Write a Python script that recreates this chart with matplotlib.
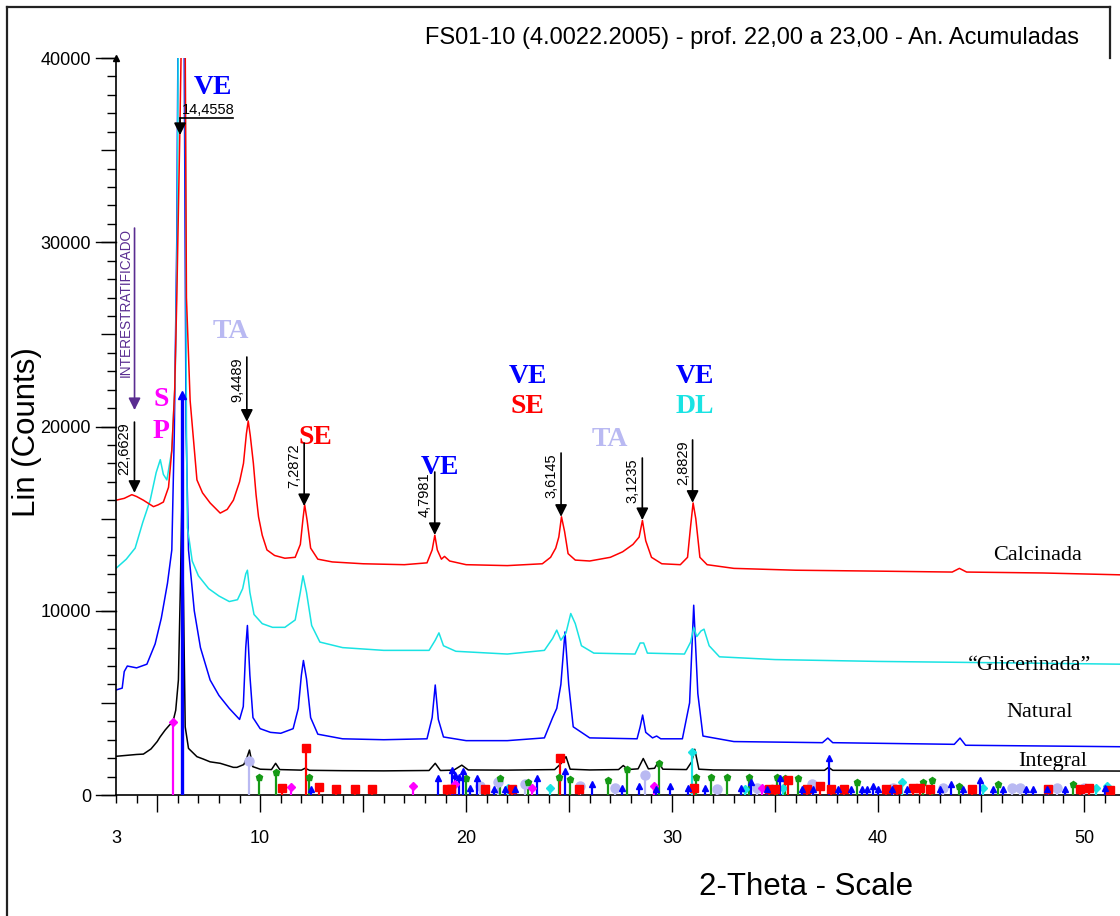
import numpy as np
import matplotlib
matplotlib.use("Agg")
import matplotlib.pyplot as plt
from matplotlib.ticker import FixedLocator, MultipleLocator, FuncFormatter
from matplotlib.lines import Line2D

SANS = ['Liberation Sans', 'DejaVu Sans']
SERIF = ['Liberation Serif', 'DejaVu Serif']
plt.rcParams['font.family'] = SANS

# ---------------- data ----------------
title = "FS01-10 (4.0022.2005) - prof. 22,00 a 23,00 - An. Acumuladas"

calc_x = [3.0, 3.4, 3.77, 4.0, 4.33, 4.82, 5.05, 5.3, 5.55, 5.71, 5.85, 5.95, 6.1, 6.2, 6.35, 6.42, 6.6, 6.93,
          7.2, 7.57, 8.06, 8.4, 8.7, 9.0, 9.19, 9.33, 9.42, 9.52, 9.67, 9.8, 9.92, 10.1, 10.33, 10.7, 11.2,
          11.7, 11.95, 12.08, 12.16, 12.28, 12.45, 12.8, 13.5, 15, 17, 18.1, 18.35, 18.48, 18.6, 18.8, 18.95,
          19.2, 20, 22, 23.7, 24.1, 24.35, 24.5, 24.63, 24.78, 24.95, 25.3, 26, 27, 27.6, 28.1, 28.4, 28.56,
          28.72, 29.0, 29.5, 30.4, 30.75, 30.9, 31.02, 31.15, 31.35, 31.7, 33, 36, 40, 43.6, 43.95, 44.3, 48, 51.75]
calc_y = [16000, 16100, 16300, 16200, 16000, 15650, 15750, 15900, 16700, 18700, 22000, 26900, 36000, 43000, 43000,
          27000, 21400, 17100, 16400, 15850, 15300, 15500, 16000, 17000, 18000, 19600, 20300, 19500, 18000, 16300,
          15100, 14100, 13300, 13000, 12850, 12900, 13600, 15000, 15750, 14900, 13400, 12800, 12650, 12550, 12500,
          12600, 13300, 14100, 13300, 12800, 12950, 12700, 12500, 12450, 12550, 12900, 13400, 14000, 15100, 14300,
          13100, 12750, 12700, 12900, 13200, 13600, 14000, 14900, 13800, 12900, 12550, 12500, 12900, 14600, 15850,
          15000, 12900, 12500, 12300, 12200, 12150, 12100, 12300, 12100, 12050, 11950]

glic_x = [3.0, 3.5, 3.93, 4.3, 4.66, 4.95, 5.15, 5.3, 5.47, 5.71, 5.87, 5.97, 6.03, 6.35, 6.42, 6.47, 6.7, 7.0,
          7.5, 8.0, 8.5, 8.9, 9.15, 9.3, 9.38, 9.5, 9.7, 10.1, 10.6, 11.2, 11.7, 11.95, 12.08, 12.25, 12.5,
          12.9, 14, 16, 18.2, 18.5, 18.68, 18.9, 19.5, 22, 23.8, 24.2, 24.4, 24.6, 24.85, 25.08, 25.3, 25.6,
          26.2, 28.2, 28.45, 28.62, 28.8, 30.6, 30.9, 31.05, 31.2, 31.4, 31.55, 31.8, 32.3, 35, 40, 44, 51.75]
glic_y = [12300, 12800, 13400, 14800, 16000, 17500, 18200, 17400, 17100, 18700, 22400, 30000, 43000, 43000,
          20000, 14500, 12700, 11900, 11200, 10800, 10500, 10600, 11200, 12000, 12200, 11000, 9800, 9300, 9100,
          9100, 9500, 11000, 11900, 11000, 9200, 8300, 8000, 7850, 7850, 8400, 8800, 8100, 7800, 7650, 7850,
          8500, 8950, 8400, 8800, 9850, 9300, 8100, 7700, 7650, 8250, 8250, 7700, 7650, 8300, 9100, 8600, 8900,
          9000, 8100, 7500, 7350, 7250, 7200, 7100]

nat_x = [3.0, 3.3, 3.4, 3.55, 4.0, 4.5, 4.9, 5.2, 5.5, 5.71, 5.83, 5.95, 6.02, 6.3, 6.4, 6.52, 6.8, 7.1, 7.57,
         8.0, 8.5, 9.0, 9.18, 9.3, 9.38, 9.5, 9.65, 10.0, 10.5, 11.0, 11.6, 11.85, 12.0, 12.1, 12.25, 12.45,
         12.8, 14, 16, 18.1, 18.35, 18.5, 18.65, 18.9, 20, 22, 23.8, 24.2, 24.4, 24.6, 24.8, 24.98, 25.2, 26,
         28.3, 28.45, 28.57, 28.72, 29.05, 29.25, 29.45, 30.5, 30.85, 31.05, 31.25, 31.5, 33, 37.3, 37.56,
         37.8, 43.7, 43.98, 44.25, 51.75]
nat_y = [5700, 5800, 6700, 7000, 6900, 7100, 8200, 9600, 11500, 13300, 19600, 30000, 43000, 43000, 20000, 13300,
         10000, 8000, 6240, 5400, 4700, 4100, 4800, 8000, 9200, 6500, 4200, 3600, 3400, 3350, 3600, 4700, 6500,
         7300, 6300, 4200, 3300, 3050, 3000, 3050, 4200, 5970, 4100, 3150, 2950, 2950, 3100, 4200, 4700, 6000,
         8850, 6000, 3700, 3100, 3050, 3700, 4340, 3400, 3100, 3200, 3050, 3050, 5000, 10300, 5500, 3200, 2900,
         2840, 3090, 2840, 2750, 3090, 2700, 2620]

integ_x = [3.0, 3.5, 4.0, 4.33, 4.7, 5.0, 5.14, 5.39, 5.6, 5.76, 5.9, 6.03, 6.12, 6.2, 6.26, 6.36, 6.52, 6.93,
           7.24, 7.57, 8.06, 8.7, 8.87, 9.2, 9.35, 9.48, 9.64, 10.0, 10.55, 10.75, 10.95, 12.0, 12.18, 12.4,
           14, 16, 18.2, 18.5, 18.75, 19.4, 19.79, 20.1, 22, 24.3, 24.6, 24.85, 25.05, 26, 27.4, 27.63, 27.85,
           28.35, 28.6, 28.85, 29.15, 29.33, 29.55, 30.7, 30.95, 31.1, 31.3, 32, 35, 37.4, 37.6, 37.8, 42, 46, 51.75]
integ_y = [2100, 2150, 2200, 2220, 2500, 2900, 3150, 3530, 3800, 3950, 4600, 6240, 11000, 16000, 12000, 3700,
           2530, 2080, 1950, 1800, 1720, 1500, 1500, 1650, 2000, 2440, 1540, 1400, 1380, 1720, 1380, 1350, 1450,
           1340, 1320, 1310, 1330, 1720, 1330, 1350, 1620, 1360, 1350, 1380, 1700, 2080, 1400, 1360, 1380, 1600,
           1380, 1420, 1980, 1420, 1450, 1800, 1400, 1380, 1800, 2480, 1400, 1360, 1340, 1340, 1500, 1340, 1330,
           1320, 1300]

curve_names = ["Calcinada", "\u201cGlicerinada\u201d", "Natural", "Integral"]

# reference stick patterns (2-theta, relative height in counts)
ve_pos = [6.22, 12.46, 18.62, 19.31, 19.47, 19.67, 19.87, 20.19, 20.55, 21.33, 21.9, 22.38, 23.42, 24.8, 26.1,
          27.56, 28.37, 29.22, 29.9, 30.76, 31.6, 33.34, 33.82, 34.6, 35.24, 36.3, 36.86, 37.62, 38.07, 38.7,
          39.2, 39.45, 39.77, 40.0, 40.66, 41.4, 43.0, 43.55, 44.14, 44.95, 45.6, 46.08, 47.2, 47.54, 48.2,
          49.08, 51.0]
ve_h = [21700, 300, 900, 1350, 1100, 1000, 1300, 400, 900, 350, 300, 300, 900, 1300, 600, 400, 500, 300, 500,
        400, 400, 400, 700, 300, 900, 300, 300, 2000, 300, 300, 300, 300, 500, 300, 300, 300, 300, 600, 300,
        800, 300, 300, 300, 300, 300, 300, 400]
gr_pos = [9.92, 10.76, 12.36, 20.0, 21.65, 22.98, 24.53, 25.05, 26.87, 27.8, 29.37, 31.16, 31.88, 32.66, 33.71,
          35.08, 35.5, 36.1, 39.0, 42.2, 42.63, 43.95, 45.84, 49.48]
gr_h = [970, 1250, 970, 900, 900, 700, 1000, 850, 800, 1400, 1720, 1000, 1000, 1000, 1000, 980, 900, 900, 700,
        700, 800, 500, 600, 600]
se_pos = [11.08, 12.21, 12.85, 13.69, 14.61, 15.42, 19.06, 19.26, 20.92, 22.25, 24.56, 25.48, 31.08, 34.7, 35.0,
          35.65, 36.57, 37.2, 37.7, 38.35, 40.37, 40.9, 41.72, 42.04, 42.5, 44.55, 48.27, 49.8, 50.26, 51.25]
se_h = [380, 2550, 450, 350, 350, 350, 300, 300, 350, 350, 2010, 300, 400, 300, 300, 800, 350, 500, 300, 350,
        350, 350, 400, 400, 350, 350, 350, 350, 400, 250]
sp_pos = [5.76, 11.52, 17.41, 19.47, 23.22, 29.1, 34.35]
sp_h = [3950, 430, 500, 600, 400, 500, 400]
ta_pos = [9.45, 20.68, 21.57, 22.86, 25.53, 27.23, 28.68, 32.17, 34.1, 36.78, 40.73, 43.17, 46.5, 46.9, 48.67, 50.0]
ta_h = [1850, 500, 700, 600, 500, 400, 1100, 300, 400, 600, 400, 400, 400, 400, 400, 400]
dl_pos = [22.05, 24.08, 30.97, 33.55, 35.4, 41.15, 45.1, 50.6, 51.1]
dl_h = [400, 400, 2330, 300, 400, 700, 400, 400, 500]

# d-spacing annotations (Angstrom) with arrow tip / top heights (counts)
d_labels = ["22,6629", "9,4489", "7,2872", "4,7981", "3,6145", "3,1235", "2,8829"]
d_tip = [16400, 20260, 15680, 14110, 15100, 14920, 15860]
d_top = [20240, 23770, 19100, 17530, 18560, 18290, 19270]
main_d = "14,4558"

mineral_labels = ["VE", "TA", "S", "P", "SE", "VE", "VE", "SE", "TA", "VE", "DL"]
mineral_x = [7.72, 8.6, 5.19, 5.19, 12.67, 18.74, 23.0, 22.97, 26.99, 31.1, 31.1]
mineral_y = [38420, 25130, 21440, 19720, 19430, 17750, 22740, 21060, 19270, 22740, 21060]

# ---------------- colours ----------------
RED = '#ff0000'
CYAN = '#19e3e3'
BLUE = '#0000ff'
BLACK = '#000000'
GREEN = '#159a15'
MAG = '#ff00ff'
LAV = '#b9b9f2'
PURPLE = '#5a2d91'
mineral_colors = [BLUE, LAV, MAG, MAG, RED, BLUE, BLUE, RED, LAV, BLUE, CYAN]

LAMBDA = 1.5406


def two_theta(d_str):
    d = float(d_str.replace(',', '.'))
    return 2 * np.degrees(np.arcsin(LAMBDA / (2 * d)))


# ---------------- figure ----------------
W, H = 1120, 916
fig = plt.figure(figsize=(W / 100, H / 100), dpi=100)
x0px, x1px, y0px, y1px = 116, 1120, 795, 58
ax = fig.add_axes([x0px / W, (H - y0px) / H, (x1px - x0px) / W, (y0px - y1px) / H])
ax.set_xlim(3, 3 + (x1px - 115.8) / 20.6)
ax.set_ylim(0, 40000)
ax.patch.set_alpha(0)

for s in ['top', 'right']:
    ax.spines[s].set_visible(False)
for s in ['left', 'bottom']:
    ax.spines[s].set_linewidth(1.2)

# curves
ax.plot(integ_x, integ_y, color=BLACK, lw=1.1, zorder=2)
ax.plot(nat_x, nat_y, color=BLUE, lw=1.1, zorder=2)
ax.plot(glic_x, glic_y, color=CYAN, lw=1.1, zorder=2)
ax.plot(calc_x, calc_y, color=RED, lw=1.1, zorder=2)


def sticks(pos, h, color, marker, ms, lw, z=4):
    ax.vlines(pos, 0, h, colors=color, lw=lw, zorder=z)
    ax.plot(pos, h, ls='none', marker=marker, color=color, ms=ms, mec=color, zorder=z + 0.5)


sticks(ta_pos, ta_h, LAV, 'o', 6.5, 1.6, 3)
sticks(dl_pos, dl_h, CYAN, 'D', 4.5, 1.6, 3.2)
sticks(gr_pos, gr_h, GREEN, 'p', 4.5, 1.6, 3.4)
sticks(sp_pos, sp_h, MAG, 'D', 3.8, 1.6, 3.6)
sticks(se_pos, se_h, RED, 's', 5.5, 1.6, 3.8)
sticks(ve_pos[:1], ve_h[:1], BLUE, '^', 5.5, 2.4, 4)
sticks(ve_pos[1:], ve_h[1:], BLUE, '^', 5.0, 1.6, 4)

# ticks
ax.xaxis.set_major_locator(FixedLocator(list(range(5, 51, 5))))
ax.xaxis.set_minor_locator(MultipleLocator(1))
ax.xaxis.set_major_formatter(FuncFormatter(lambda v, p: str(int(v)) if int(v) % 10 == 0 else ''))
ax.tick_params(axis='x', which='major', direction='out', length=12, width=1, pad=13, labelsize=13)
ax.tick_params(axis='x', which='minor', direction='out', length=6, width=1)
ax.text(3, -35 / 737, '3', transform=ax.get_xaxis_transform(), ha='center', va='top', fontsize=13)

ax.yaxis.set_major_locator(FixedLocator(list(range(0, 40001, 5000))))
ax.yaxis.set_minor_locator(MultipleLocator(1000))
ax.yaxis.set_major_formatter(FuncFormatter(lambda v, p: str(int(v)) if int(v) % 10000 == 0 else ''))
ax.tick_params(axis='y', which='major', direction='out', length=11, width=1, pad=7, labelsize=13)
ax.tick_params(axis='y', which='minor', direction='out', length=6.5, width=1)
axw = x1px - x0px
for v in range(0, 40001, 10000):
    ax.plot([-20 / axw, 0], [v, v], transform=ax.get_yaxis_transform(), color='k', lw=1, clip_on=False)
ax.plot([3], [40000], marker='^', color='k', ms=5, clip_on=False, zorder=6)

ax.set_ylabel("Lin (Counts)", fontsize=22.5)
ax.set_xlabel("2-Theta - Scale", fontsize=22.5)
ax.xaxis.set_label_coords((806 - x0px) / axw, -(872 - y0px) / 737)
ax.yaxis.set_label_coords((42 - x0px) / axw, (795 - 432) / 737)

fig.text(752 / W, 1 - 38 / H, title, ha='center', va='center', fontsize=17)

# mineral labels
for lab, x, y, c in zip(mineral_labels, mineral_x, mineral_y, mineral_colors):
    ax.text(x, y, lab, color=c, fontsize=20, fontweight='bold', family=SERIF, ha='center', va='center', zorder=7)

# curve names
name_x = [45.58, 44.37, 46.22, 46.8]
name_y = [13025, 7055, 4500, 1845]
for n, x, y in zip(curve_names, name_x, name_y):
    ax.text(x, y, n, fontsize=16, family=SERIF, ha='left', va='center', zorder=7)

# d-spacing arrows
arrow_kw = dict(arrowstyle='-|>,head_length=0.6,head_width=0.3', color='k', lw=1.2,
                shrinkA=0, shrinkB=0, mutation_scale=12)
for lab, tip, top in zip(d_labels, d_tip, d_top):
    x = two_theta(lab)
    ax.annotate('', xy=(x, tip), xytext=(x, top), arrowprops=arrow_kw, zorder=8)
    ax.annotate(lab, xy=(x, top), xytext=(-2, 0), textcoords='offset points', rotation=90,
                ha='right', va='top', fontsize=10.5, zorder=8)

xm = two_theta(main_d)
ax.plot([xm, xm + 53 / 20.6], [36740, 36740], color='k', lw=1.2, zorder=8)
ax.annotate('', xy=(xm, 35820), xytext=(xm, 36740), arrowprops=arrow_kw, zorder=8)
ax.annotate(main_d, xy=(xm, 36740), xytext=(1, 1), textcoords='offset points', ha='left', va='bottom',
            fontsize=10.5, zorder=8)

# interstratified label
xi = 3.9
ax.annotate('', xy=(xi, 20890), xytext=(xi, 30770),
            arrowprops=dict(arrowstyle='-|>,head_length=0.6,head_width=0.3', color=PURPLE, lw=1.2,
                            shrinkA=0, shrinkB=0, mutation_scale=12), zorder=8)
ax.annotate("INTERESTRATIFICADO", xy=(xi, 30770), xytext=(-1.5, 0), textcoords='offset points', rotation=90,
            ha='right', va='top', fontsize=9.8, color=PURPLE, zorder=8)

# outer frame
fig.add_artist(Line2D([7 / W, 7 / W], [0, 1 - 7 / H], transform=fig.transFigure, color='#222222', lw=1.6))
fig.add_artist(Line2D([7 / W, 1110 / W], [1 - 7 / H, 1 - 7 / H], transform=fig.transFigure, color='#222222', lw=1.6))
fig.add_artist(Line2D([1110 / W, 1110 / W], [1 - 7 / H, 1 - 58 / H], transform=fig.transFigure, color='#222222', lw=1.6))

fig.savefig("out.png", dpi=100)
